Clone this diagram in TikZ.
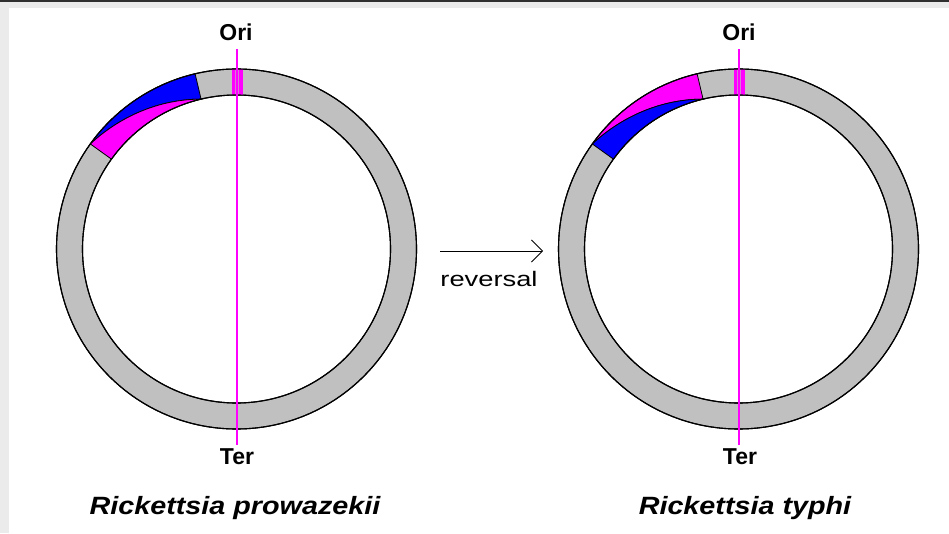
\documentclass[tikz,border=0pt]{standalone}
\usepackage{fontspec}
\setmainfont{Liberation Sans}
\usetikzlibrary{arrows.meta}
\definecolor{ringgrey}{HTML}{C0C0C0}
\definecolor{pinkmag}{RGB}{255,0,255}
\definecolor{deepblue}{RGB}{0,0,255}
\definecolor{framegrey}{HTML}{EBEBEB}
\definecolor{topbar}{HTML}{303030}
\tikzset{
  ring/.style={fill=ringgrey, draw=black, line width=1.1pt, even odd rule},
  segline/.style={draw=black, line width=0.8pt},
  axisline/.style={color=pinkmag, line width=1.1pt},
  orilbl/.style={font=\bfseries\fontsize{23}{24}\selectfont, inner sep=0pt, anchor=base},
  species/.style={font=\bfseries\itshape\fontsize{25}{28}\selectfont, inner sep=0pt, anchor=base, xscale=1.15},
}
\newcommand{\genome}[4]{%
  % #1 center x, #2 name prefix, #3 outer colour, #4 inner colour
  \begin{scope}[shift={(#1,284)}]
    \path[ring] (0,0) circle (180) (0,0) circle (154);
    \begin{scope}[even odd rule]
      \clip (0,0) circle (180) (0,0) circle (154);
      \fill[pinkmag] (-5,150) rectangle (6,185);
      \fill[pinkmag!35!ringgrey] (-1.6,150) rectangle (-0.9,185);
      \fill[pinkmag!35!ringgrey] (1.9,150) rectangle (2.6,185);
    \end{scope}
    \path[segline, fill=#3] (103.3:180) arc[start angle=103.3, end angle=144.3, radius=180]
      -- plot[domain=144.3:103.3, samples=40] (\x:{180-26*(144.3-\x)/41}) -- cycle;
    \path[segline, fill=#4] (144.3:180)
      -- plot[domain=144.3:103.3, samples=40] (\x:{180-26*(144.3-\x)/41})
      arc[start angle=103.3, end angle=144.3, radius=154] -- cycle;
    \draw[black, line width=1.1pt] (0,0) circle (180) (0,0) circle (154);
    \coordinate (#2top) at (0.5,200);
    \coordinate (#2bot) at (0.5,-196);
    \draw[axisline] (#2top) -- (#2bot);
  \end{scope}}
\begin{document}
\begin{tikzpicture}[x=1pt,y=1pt]
  \useasboundingbox (0,0) rectangle (949,533);
  \fill[white] (0,0) rectangle (949,533);
  \fill[framegrey] (0,0) rectangle (9,533);
  \fill[framegrey] (0,525) rectangle (949,533);
  \fill[topbar] (0,531) rectangle (949,533);

  \genome{236.5}{L}{deepblue}{pinkmag}
  \genome{738.5}{R}{pinkmag}{deepblue}

  \node[orilbl] (oriL) at (236,492) {Ori};
  \node[orilbl] (terL) at (237,69) {Ter};
  \node[orilbl] (oriR) at (739,492) {Ori};
  \node[orilbl] (terR) at (740,69) {Ter};

  \node[species] (spL) at (235,19) {Rickettsia prowazekii};
  \node[species] (spR) at (745,19) {Rickettsia typhi};

  \coordinate (arrA) at (440,282);
  \coordinate (arrB) at (543,282);
  \draw[line width=0.8pt, -{Straight Barb[length=11pt, width=22pt, line width=0.8pt]}] (arrA) -- (arrB);
  \node[font=\fontsize{21}{24}\selectfont, inner sep=0pt, anchor=base, xscale=1.3] (rev) at (489,246) {reversal};
\end{tikzpicture}
\end{document}
